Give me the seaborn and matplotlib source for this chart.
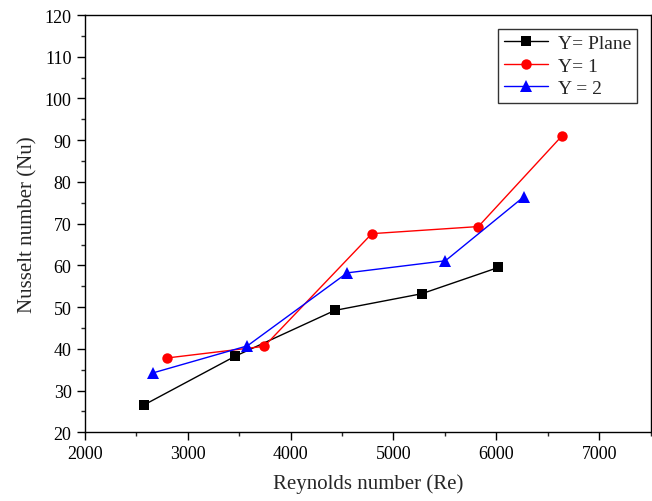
import numpy as np
import pandas as pd
import matplotlib
matplotlib.use("Agg")
import matplotlib.pyplot as plt
import seaborn as sns
from matplotlib.ticker import MultipleLocator

# data
re_plane = [2580, 3460, 4430, 5275, 6020]
nu_plane = [26.6, 38.2, 49.2, 53.2, 59.5]
re_y1 = [2800, 3745, 4790, 5825, 6640]
nu_y1 = [37.8, 40.6, 67.6, 69.3, 91.1]
re_y2 = [2660, 3580, 4550, 5505, 6265]
nu_y2 = [34.2, 40.7, 58.2, 61.1, 76.4]

sns.set_style("white")
plt.rcParams['font.family'] = ['Liberation Serif', 'DejaVu Serif']

fig = plt.figure(figsize=(6.52, 5.02), dpi=100)
ax = fig.add_axes([0.130, 0.137, 0.868, 0.831])

sns.lineplot(x=re_plane, y=nu_plane, ax=ax, color='black', marker='s', markersize=6.5,
             markeredgewidth=0, linewidth=1, label='Y= Plane')
sns.lineplot(x=re_y1, y=nu_y1, ax=ax, color='red', marker='o', markersize=7.5,
             markeredgewidth=0, linewidth=1, label='Y= 1')
sns.lineplot(x=re_y2, y=nu_y2, ax=ax, color='blue', marker='^', markersize=8,
             markeredgewidth=0, linewidth=1, label='Y = 2')

ax.set_xlim(2000, 7500)
ax.set_ylim(20, 120)
ax.xaxis.set_major_locator(MultipleLocator(1000))
ax.xaxis.set_minor_locator(MultipleLocator(500))
ax.yaxis.set_major_locator(MultipleLocator(10))
ax.yaxis.set_minor_locator(MultipleLocator(5))
ax.tick_params(which='major', direction='out', length=6, width=1, labelsize=13,
               bottom=True, left=True, top=False, right=False, colors='black')
ax.tick_params(which='minor', direction='out', length=3, width=1,
               bottom=True, left=True, top=False, right=False)
ax.set_xticks([2000, 3000, 4000, 5000, 6000, 7000])
for s in ax.spines.values():
    s.set_color('black')
    s.set_linewidth(1)

ax.set_xlabel('Reynolds number (Re)', fontsize=15, labelpad=8)
ax.set_ylabel('Nusselt number (Nu)', fontsize=15, labelpad=5)

leg = ax.legend(loc='upper right', fontsize=14, frameon=True, fancybox=False,
                edgecolor='black', borderaxespad=0.7, handlelength=2.3,
                labelspacing=0.25, borderpad=0.3, handletextpad=0.5)
leg.get_frame().set_linewidth(1)

fig.savefig('out.png', dpi=100)
